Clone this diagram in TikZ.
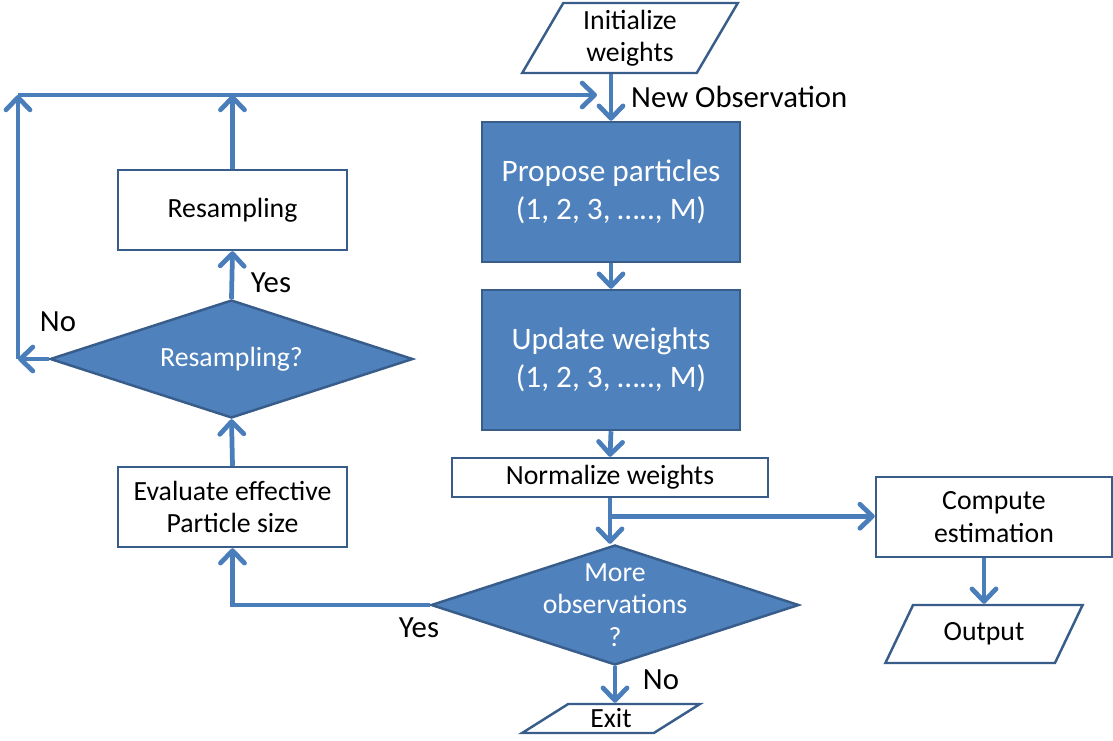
\documentclass[tikz,border=0pt]{standalone}
\usepackage{fontspec}
\setmainfont{Carlito}
\usepackage{tikz}
\usetikzlibrary{shapes,arrows.meta,positioning,calc,shapes.geometric}
\definecolor{pfbleu}{RGB}{79,129,189}
\definecolor{pfbord}{RGB}{56,93,138}
\definecolor{pflien}{RGB}{74,126,187}
\newcommand{\fboite}{\fontsize{15.8}{18.5}\selectfont}
\newcommand{\fgrand}{\fontsize{17.8}{21.5}\selectfont}
\newcommand{\fetiq}{\fontsize{17.5}{21}\selectfont}

\begin{document}
\begin{tikzpicture}[
    box/.style={rectangle, draw=pfbord, line width=1.4pt, fill=white, align=center, font=\fboite},
    bigbox/.style={rectangle, draw=pfbord, line width=1.4pt, fill=pfbleu, text=white, align=center, font=\fgrand,
                   minimum width=5.16cm, minimum height=2.8cm},
    io/.style={trapezium, trapezium stretches=true, draw=pfbord, line width=1.4pt, fill=white, align=center,
               font=\fboite, inner sep=0pt},
    decision/.style={diamond, draw=pfbord, line width=1.4pt, fill=pfbleu, inner sep=0pt},
    flow/.style={draw=pflien, line width=2.7pt, -{Straight Barb[length=2.5mm,width=4.8mm,round]}},
    lbl/.style={font=\fetiq}
  ]
  \useasboundingbox (0,0) rectangle (22.26,-14.8);

  \node[io, trapezium left angle=63, trapezium right angle=117, minimum width=4.32cm, minimum height=1.4cm]
    (init) at (12.6,-0.76) {Initialize\\weights};
  \node[bigbox] (propose) at (12.22,-3.84) {Propose particles\\(1, 2, 3, \dots.., M)};
  \node[bigbox] (update) at (12.22,-7.2) {Update weights\\(1, 2, 3, \dots.., M)};
  \node[box, minimum width=6.32cm, minimum height=0.78cm] (normalize) at (12.2,-9.55) {Normalize weights};
  \node[decision, minimum width=7.36cm, minimum height=2.4cm,
        label={[text=white, align=center, font=\fboite]center:More\\observations\\?}]
    (moreobs) at (12.3,-12.1) {};
  \node[io, trapezium left angle=41, trapezium right angle=139, minimum width=3.56cm, minimum height=0.58cm]
    (exit) at (12.22,-14.37) {Exit};
  \node[box, minimum width=4.72cm, minimum height=1.6cm] (compute) at (19.88,-10.34) {Compute\\estimation};
  \node[io, trapezium left angle=55, trapezium right angle=125, minimum width=3.96cm, minimum height=1.16cm]
    (output) at (19.68,-12.68) {Output};
  \node[box, minimum width=4.58cm, minimum height=1.6cm] (evaluate) at (4.65,-10.14) {Evaluate effective\\Particle size};
  \node[decision, minimum width=7.26cm, minimum height=2.36cm,
        label={[text=white, font=\fboite]center:Resampling?}]
    (resq) at (4.63,-7.18) {};
  \node[box, minimum width=4.58cm, minimum height=1.6cm] (resamp) at (4.65,-4.2) {Resampling};

  \coordinate (nwcorner) at (0.36,-1.9);
  \coordinate (newobs) at (propose.north |- nwcorner);
  \coordinate (split) at ([yshift=-0.36cm]normalize.south);

  \node[lbl, anchor=west] (newobslbl) at (12.5,-1.94) {New Observation};
  \node[lbl] (yesres) at (5.42,-5.66) {Yes};
  \node[lbl] (nores) at (1.16,-6.44) {No};
  \node[lbl] (yesmore) at (8.38,-12.56) {Yes};
  \node[lbl] (nomore) at (13.22,-13.6) {No};

  \draw[flow] (init.south -| propose.north) -- (propose.north);
  \draw[flow] (nwcorner) -- ([xshift=-0.28cm]newobs);
  \draw[flow] (propose.south) -- (update.north);
  \draw[flow] (update.south) -- (normalize.north);
  \draw[flow] (normalize.south) -- (normalize.south |- moreobs.north);
  \draw[flow] (split) -- (split -| compute.west);
  \draw[flow] (output.north |- compute.south) -- (output.north);
  \draw[flow] (moreobs.south) -- (moreobs.south |- exit.north);
  \draw[flow] (moreobs.west) -| (evaluate.south);
  \draw[flow] (evaluate.north) -- (resq.south);
  \draw[flow] (resq.north) -- (resamp.south);
  \draw[flow] (resamp.north) -- (resamp.north |- nwcorner);
  \draw[flow] (resq.west) -- (resq.west -| nwcorner);
  \draw[flow] (resq.west -| nwcorner) -- (nwcorner);
\end{tikzpicture}
\end{document}
